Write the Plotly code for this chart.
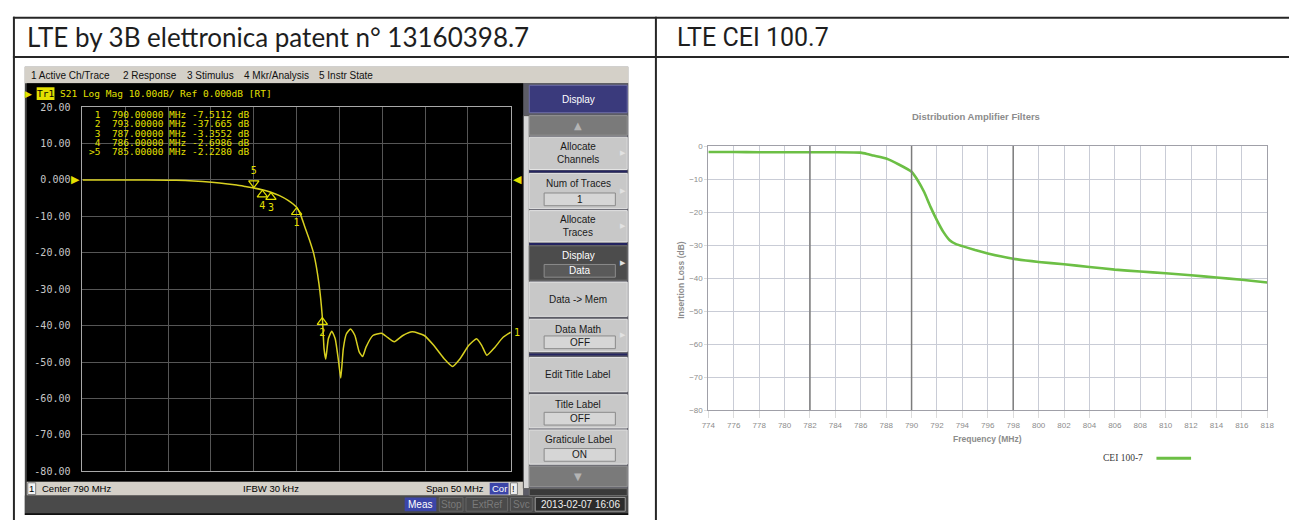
import plotly.graph_objects as go

W, H = 1296, 525

# ---------------- data : left (VNA screenshot, S21) ----------------
vna_freq_mhz = [765, 770, 775, 777, 779, 781, 783, 784, 785, 786, 787, 788, 789, 790,
                790.5, 791.0, 791.5, 792.0, 792.6, 793.0, 793.2, 793.4, 793.7, 794.1,
                794.5, 794.9, 795.15, 795.45, 795.8, 796.3, 796.8, 797.3, 797.7, 798.1,
                798.9, 799.9, 800.6, 801.4, 802.4, 803.5, 804.9, 806.0, 807.2, 808.2,
                809.1, 810.1, 811.0, 811.6, 812.2, 813.15, 814.1, 815]
vna_s21_db = [0.0, 0.0, -0.05, -0.15, -0.4, -0.8, -1.4, -1.8, -2.23, -2.70, -3.36, -4.3, -5.6, -7.51,
              -9.8, -13.2, -16.5, -20.3, -28.4, -37.7, -46.3, -49.2, -43.6, -41.5,
              -43.6, -49.9, -54.4, -46.3, -42.3, -40.9, -42.7, -47.2, -48.5, -45.9,
              -42.7, -42.1, -43.2, -44.4, -42.7, -41.7, -42.7, -45.4, -49.0, -51.2,
              -49.0, -45.4, -43.6, -45.4, -48.1, -45.9, -43.2, -41.8]

vna_marker_ids = ["1", "2", "3", "4", "5"]
vna_marker_freq_mhz = [790, 793, 787, 786, 785]
vna_marker_db = [-7.5112, -37.665, -3.3552, -2.6986, -2.2280]
vna_active_marker = "5"

vna_y_ticks = [20, 10, 0, -10, -20, -30, -40, -50, -60, -70, -80]
vna_y_ticktext = ["20.00", "10.00", "0.000", "-10.00", "-20.00", "-30.00",
                  "-40.00", "-50.00", "-60.00", "-70.00", "-80.00"]
vna_x_ticks = [765, 770, 775, 780, 785, 790, 795, 800, 805, 810, 815]
vna_center_mhz = 790
vna_span_mhz = 50
vna_ref_db = 0
vna_ifbw = "IFBW 30 kHz"
vna_timestamp = "2013-02-07 16:06"

# ---------------- data : right (CEI 100-7 filter) ----------------
cei_freq_mhz = [774, 776, 778, 780, 782, 784, 786, 786.5, 787, 788, 789, 790, 790.5, 791,
                791.5, 792, 792.5, 793, 793.5, 794, 795, 796, 798, 800, 802, 804, 806,
                808, 810, 812, 814, 816, 818]
cei_loss_db = [-1.8, -1.8, -1.9, -1.9, -1.9, -1.9, -2.0, -2.4, -2.9, -3.8, -5.6, -7.8, -10.5, -14.0,
               -18.5, -22.5, -26.0, -28.5, -29.7, -30.3, -31.5, -32.5, -34.1, -35.1, -35.8, -36.6, -37.4,
               -38.0, -38.5, -39.1, -39.8, -40.5, -41.3]
cei_x_ticks = [774, 776, 778, 780, 782, 784, 786, 788, 790, 792, 794, 796, 798, 800,
               802, 804, 806, 808, 810, 812, 814, 816, 818]
cei_y_ticks = [0, -10, -20, -30, -40, -50, -60, -70, -80]
cei_heavy_lines = [782, 790, 798]
cei_series_name = "CEI 100-7"

# ---------------- helpers ----------------
MONO = "DejaVu Sans Mono"
UI = "Liberation Sans"
YEL = "#e4e000"
TRACE = "#d8d020"


def X(p):
    return p / W


def Y(p):
    return 1 - p / H


shapes = []
annotations = []


def rect(x0, y0, x1, y1, fill, line=None, lw=1, layer="below"):
    shapes.append(dict(type="rect", xref="paper", yref="paper",
                       x0=X(x0), x1=X(x1), y0=Y(y1), y1=Y(y0),
                       fillcolor=fill, layer=layer,
                       line=dict(color=line if line else fill, width=lw if line else 0)))


def seg(x0, y0, x1, y1, color, lw=1, layer="above"):
    shapes.append(dict(type="line", xref="paper", yref="paper",
                       x0=X(x0), x1=X(x1), y0=Y(y0), y1=Y(y1),
                       line=dict(color=color, width=lw), layer=layer))


def ann(x, y, text, size=10, color="#000", family=UI, xanchor="left", yanchor="middle", **kw):
    annotations.append(dict(x=X(x), y=Y(y), xref="paper", yref="paper", text=text,
                            showarrow=False, xanchor=xanchor, yanchor=yanchor,
                            font=dict(size=size, color=color, family=family), **kw))


def fmt_db(v):
    return f"{v:.4f}" if abs(v) < 10 else f"{v:.3f}"


# ---------------- table frame ----------------
seg(6, 12, 1296, 12, "#262626", 2)
seg(6, 52, 1296, 52, "#262626", 2)
seg(7, 11, 7, 525, "#262626", 2)
seg(656, 11, 656, 525, "#262626", 2)
ann(18, 32, "LTE by 3B elettronica patent n° 13160398.7", size=26, color="#1e1e1e", family="Lato")
ann(675, 32, "LTE CEI 100.7", size=25, color="#1e1e1e", family="Roboto")

# ---------------- VNA screenshot chrome ----------------
rect(18, 62, 628, 520, "#444444")
rect(18, 62, 628, 79, "#d4d0c8")
for xx, t in [(22, "1 Active Ch/Trace"), (115, "2 Response"), (180, "3 Stimulus"),
              (238, "4 Mkr/Analysis"), (313, "5 Instr State")]:
    ann(xx, 70.5, t, size=10, color="#111")
rect(20, 79, 522, 486, "#000000")

# header line in the plot window
ann(27, 89.5, "▶", size=9, color=YEL, family="DejaVu Sans", xanchor="right")
rect(30, 83, 48, 96, YEL)
ann(39, 89.5, "Tr1", size=9.5, color="#000", family=MONO, xanchor="center")
ann(52, 89.5, "S21 Log Mag 10.00dB/ Ref 0.000dB [RT]", size=9.5, color=YEL, family=MONO)

# marker table
for i, (mid, f, v) in enumerate(zip(vna_marker_ids, vna_marker_freq_mhz, vna_marker_db)):
    pre = ">" if mid == vna_active_marker else " "
    ann(81, 111 + i * 9.5, f"{pre}{mid}  {f:.5f} MHz {fmt_db(v)} dB", size=9.5, color=YEL, family=MONO)

# status bar
rect(20, 486, 522, 500, "#d4d0c8")
rect(21, 487, 29, 499, "#f4f4f4", "#808080")
ann(25, 493, "1", size=9.5, color="#000", xanchor="center")
ann(33, 493, f"Center {vna_center_mhz} MHz", size=9.5, color="#000")
ann(237, 493, vna_ifbw, size=9.5, color="#000")
ann(484, 493, f"Span {vna_span_mhz} MHz", size=9.5, color="#000", xanchor="right")
rect(488, 487, 507, 499, "#3b45a8")
ann(497.5, 493, "Cor", size=9.5, color="#fff", xanchor="center")
rect(509, 487, 516, 499, "#eeeeee", "#808080")
ann(512.5, 493, "!", size=9, color="#000", xanchor="center")

# bottom dark bar
rect(18, 500, 628, 518, "#4a4a4a")
rect(18, 518, 628, 520, "#111111")
rect(402, 502, 434, 516, "#3b45a8")
ann(418, 509, "Meas", size=10, color="#fff", xanchor="center")
for x0, x1, t in [(437, 461, "Stop"), (464, 506, "ExtRef"), (509, 531, "Svc")]:
    rect(x0, 502, x1, 516, "#4a4a4a", "#666666")
    ann((x0 + x1) / 2, 509, t, size=10, color="#7a7a7a", xanchor="center")
rect(534, 502, 625, 516, "#2c2c2c", "#9a9a9a")
ann(579.5, 509, vna_timestamp, size=10, color="#f0f0f0", xanchor="center")

# softkey panel
rect(522, 79, 628, 500, "#5c5c66")
rect(522, 112, 528, 493, "#d6d6d6", "#555555")
buttons = [
    (81, 109, "Display", None, "navy", False),
    (112, 132, "▲", None, "arrow", False),
    (134, 167, "Allocate<br>Channels", None, "normal", True),
    (171, 207, "Num of Traces", "1", "normal", True),
    (209, 241, "Allocate<br>Traces", None, "normal", True),
    (245, 280, "Display", "Data", "dark", True),
    (282, 317, "Data -> Mem", None, "normal", False),
    (320, 353, "Data Math", "OFF", "normal", True),
    (359, 394, "Edit Title Label", None, "normal", False),
    (397, 431, "Title Label", "OFF", "normal", False),
    (433, 468, "Graticule Label", "ON", "normal", False),
    (470, 491, "▼", None, "arrow", False),
]
for y0, y1, label, value, style, arrow in buttons:
    x0, x1 = 528, 627
    if style == "navy":
        rect(x0, y0, x1, y1, "#3a3a7c", "#6c6ca8")
        ann(577.5, (y0 + y1) / 2, label, size=10, color="#ffffff", xanchor="center")
    elif style == "arrow":
        rect(x0, y0, x1, y1, "#7a7a7a", "#959595")
        ann(577.5, (y0 + y1) / 2, label, size=10, color="#b4b4b4", xanchor="center",
            family="DejaVu Sans")
    else:
        fill, txt, vfill, vline = (("#4c4c4c", "#ffffff", "#5a5a5a", "#8c8c8c") if style == "dark"
                                   else ("#c8c8c8", "#1a1a1a", "#d6d6d6", "#8a8a8a"))
        rect(x0, y0, x1, y1, fill, "#e4e4e4" if style != "dark" else "#6a6a6a")
        if value is None:
            ann(577.5, (y0 + y1) / 2, label, size=10, color=txt, xanchor="center")
        else:
            ann(577.5, y0 + 10, label, size=10, color=txt, xanchor="center")
            rect(543, y1 - 16, 615, y1 - 3, vfill, vline)
            ann(579, y1 - 9.5, value, size=10, color=txt, xanchor="center")
        if arrow:
            ann(623, (y0 + y1) / 2, "▶", size=7, color="#e2e2e2", xanchor="center",
                family="DejaVu Sans")
for ysep in [169, 243, 356]:
    rect(528, ysep - 1, 627, ysep + 1, "#242460")
rect(528, 493, 627, 500, "#3a3a3a", "#6a6a6a")

# reference level indicators and trace label (on the VNA axes)
annotations.append(dict(x=vna_x_ticks[0], y=vna_ref_db, xref="x", yref="y", text="▶",
                        showarrow=False, xanchor="right", yanchor="middle", xshift=0,
                        font=dict(size=11, color=YEL, family="DejaVu Sans")))
annotations.append(dict(x=vna_x_ticks[-1], y=vna_ref_db, xref="x", yref="y", text="◀",
                        showarrow=False, xanchor="left", yanchor="middle", xshift=0,
                        font=dict(size=11, color=YEL, family="DejaVu Sans")))
annotations.append(dict(x=vna_freq_mhz[-1], y=vna_s21_db[-1], xref="x", yref="y", text="1",
                        showarrow=False, xanchor="left", yanchor="middle", xshift=1,
                        font=dict(size=10, color=YEL, family=MONO)))

# ---------------- right chart decorations ----------------
ann(980, 113, "Distribution Amplifier Filters", size=9.5, color="#8c8c8c")
annotations[-1]["xanchor"] = "center"
annotations[-1]["font"]["weight"] = "bold"
ann(991, 442, "Frequency (MHz)", size=8.5, color="#8c8c8c", xanchor="center")
annotations[-1]["font"]["weight"] = "bold"
annotations.append(dict(x=X(682), y=Y(280), xref="paper", yref="paper", text="Insertion Loss (dB)",
                        showarrow=False, textangle=-90, xanchor="center", yanchor="middle",
                        font=dict(size=8.5, color="#8c8c8c", family=UI, weight="bold")))
ann(1150, 462, cei_series_name, size=9.5, color="#3a3a3a", family="Liberation Serif", xanchor="right")
seg(1162, 462, 1197, 462, "#6cbf45", 3)
for fx in cei_heavy_lines:
    shapes.append(dict(type="line", xref="x2", yref="y2", x0=fx, x1=fx,
                       y0=cei_y_ticks[-1], y1=cei_y_ticks[0],
                       line=dict(color="#7c7c7c", width=1.5), layer="above"))

# ---------------- traces ----------------
fig = go.Figure()
fig.add_trace(go.Scatter(x=vna_freq_mhz, y=vna_s21_db, mode="lines",
                         line=dict(color=TRACE, width=1.5, shape="spline", smoothing=0.5),
                         xaxis="x", yaxis="y", hoverinfo="skip"))

DB_PX = 100 / (475.3 - 103.3)  # dB per pixel on the VNA grid
passive = [i for i, m in enumerate(vna_marker_ids) if m != vna_active_marker]
active = [i for i, m in enumerate(vna_marker_ids) if m == vna_active_marker]
fig.add_trace(go.Scatter(
    x=[vna_marker_freq_mhz[i] for i in passive],
    y=[vna_marker_db[i] - 5 * DB_PX for i in passive],
    text=[vna_marker_ids[i] for i in passive], mode="markers+text",
    textposition="bottom center", textfont=dict(size=10, color=YEL, family=MONO),
    marker=dict(symbol="triangle-up-open", size=9, color=YEL, line=dict(width=1.2, color=YEL)),
    xaxis="x", yaxis="y", hoverinfo="skip", cliponaxis=False))
fig.add_trace(go.Scatter(
    x=[vna_marker_freq_mhz[i] for i in active],
    y=[vna_marker_db[i] + 5 * DB_PX for i in active],
    text=[vna_marker_ids[i] for i in active], mode="markers+text",
    textposition="top center", textfont=dict(size=10, color=YEL, family=MONO),
    marker=dict(symbol="triangle-down-open", size=9, color=YEL, line=dict(width=1.2, color=YEL)),
    xaxis="x", yaxis="y", hoverinfo="skip", cliponaxis=False))
fig.add_trace(go.Scatter(
    x=vna_marker_freq_mhz,
    y=[vna_y_ticks[-1] - 5 * DB_PX] * len(vna_marker_freq_mhz),
    mode="markers",
    marker=dict(symbol=["triangle-up" if m == vna_active_marker else "triangle-up-open"
                        for m in vna_marker_ids],
                size=9, color=YEL, line=dict(width=1.2, color=YEL)),
    xaxis="x", yaxis="y", hoverinfo="skip", cliponaxis=False))

fig.add_trace(go.Scatter(x=cei_freq_mhz, y=cei_loss_db, mode="lines", name=cei_series_name,
                         line=dict(color="#6cbf45", width=2.6, shape="spline", smoothing=0.4),
                         xaxis="x2", yaxis="y2", hoverinfo="skip"))

fig.update_layout(
    width=W, height=H, margin=dict(l=0, r=0, t=0, b=0),
    paper_bgcolor="#ffffff", plot_bgcolor="rgba(0,0,0,0)",
    showlegend=False, hovermode=False,
    shapes=shapes, annotations=annotations,
    xaxis=dict(domain=[X(76.3), X(509.3)], range=[765, 815], tickvals=vna_x_ticks,
               showticklabels=False, showgrid=True, gridcolor="#565656", gridwidth=1,
               zeroline=False, showline=True, linecolor="#a8a8a8", linewidth=1, mirror=True,
               ticks="", anchor="y", fixedrange=True),
    yaxis=dict(domain=[Y(475.3), Y(103.3)], range=[-80, 20], tickvals=vna_y_ticks,
               ticktext=vna_y_ticktext, tickfont=dict(size=10, color="#c8c8c8", family=MONO),
               showgrid=True, gridcolor="#565656", gridwidth=1, zeroline=False,
               showline=True, linecolor="#a8a8a8", linewidth=1, mirror=True,
               ticks="outside", ticklen=9, tickcolor="rgba(0,0,0,0)", anchor="x", fixedrange=True),
    xaxis2=dict(domain=[X(709), X(1274)], range=[774, 818], tickvals=cei_x_ticks,
                tickfont=dict(size=8, color="#8c8c8c", family=UI),
                showgrid=True, gridcolor="#c9ccd6", gridwidth=1, zeroline=False,
                showline=True, linecolor="#a0a0a8", linewidth=1, mirror=True,
                ticks="outside", ticklen=7, tickcolor="#dcdcdc", anchor="y2", fixedrange=True),
    yaxis2=dict(domain=[Y(413), Y(143)], range=[-80, 0], tickvals=cei_y_ticks,
                tickfont=dict(size=8, color="#8c8c8c", family=UI),
                showgrid=True, gridcolor="#c9ccd6", gridwidth=1, zeroline=False,
                showline=True, linecolor="#a0a0a8", linewidth=1, mirror=True,
                ticks="outside", ticklen=3, tickcolor="#dcdcdc", anchor="x2", fixedrange=True),
)

fig.write_html("out.html", config={"displayModeBar": False, "staticPlot": True},
               post_script="document.body.style.margin='0';document.body.style.padding='0';")
